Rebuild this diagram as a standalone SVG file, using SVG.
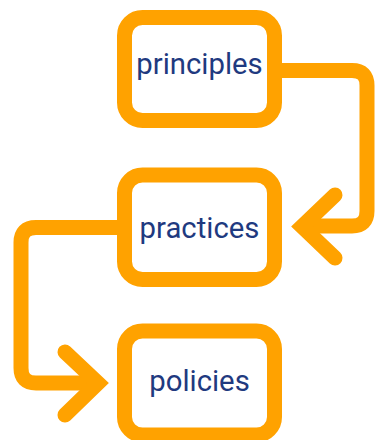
<svg xmlns="http://www.w3.org/2000/svg" width="380" height="440" viewBox="0 0 380 440">
<style>
.box{fill:#fff;stroke:#FFA200;stroke-width:15}
.lbl{font-family:Roboto,"Liberation Sans",sans-serif;font-size:29.3px;fill:#1F3A80;text-anchor:middle}
.con{fill:none;stroke:#FFA200;stroke-width:15;stroke-linejoin:round}
.head{fill:none;stroke:#FFA200;stroke-width:15;stroke-linecap:round;stroke-linejoin:miter;stroke-miterlimit:10}
</style>
<rect width="380" height="440" fill="#fff"/>
<g id="connectors">
<path class="con" d="M282 70.5 H352 Q367 70.5 367 85.5 V211 Q367 226 352 226 H300"/>
<polyline class="head" points="335,195 302,226.5 335,258"/>
<path class="con" d="M117 227.5 H36 Q21 227.5 21 242.5 V368 Q21 383 36 383 H100"/>
<polyline class="head" points="65,352 98,383 65,415"/>
</g>
<g id="principles">
<rect class="box" x="124.5" y="17.5" width="150" height="103" rx="18"/>
<text class="lbl" x="199.5" y="73.5">principles</text>
</g>
<g id="practices">
<rect class="box" x="124.5" y="175" width="150" height="104.5" rx="18"/>
<text class="lbl" x="199.5" y="237.5">practices</text>
</g>
<g id="policies">
<rect class="box" x="124.5" y="331" width="150" height="104" rx="18"/>
<text class="lbl" x="199.5" y="390.5">policies</text>
</g>
</svg>
